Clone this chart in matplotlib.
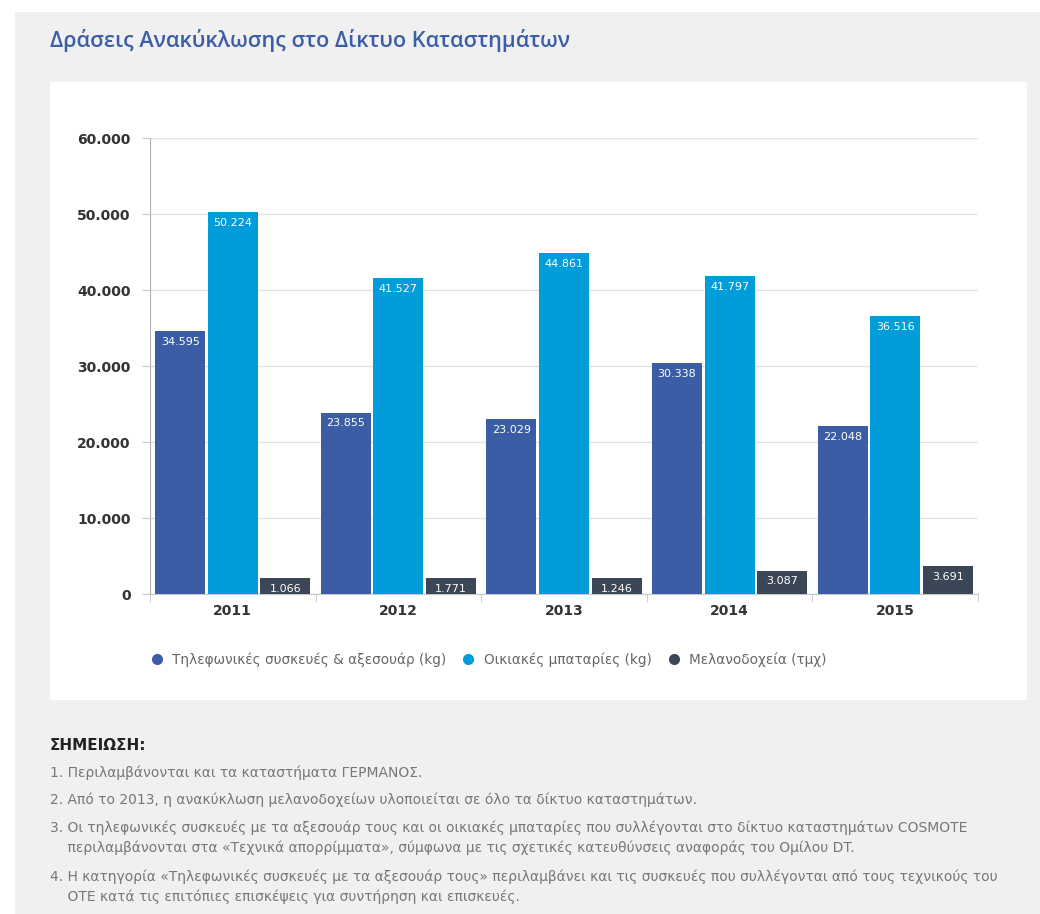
import matplotlib
matplotlib.use("Agg")
import matplotlib.pyplot as plt
import numpy as np
from matplotlib.patches import Rectangle
from matplotlib.lines import Line2D
from matplotlib.ticker import FuncFormatter, MultipleLocator

years = ['2011', '2012', '2013', '2014', '2015']
phones = [34595, 23855, 23029, 30338, 22048]
batteries = [50224, 41527, 44861, 41797, 36516]
cartridges = [1066, 1771, 1246, 3087, 3691]
series_names = ['Τηλεφωνικές συσκευές & αξεσουάρ (kg)',
                'Οικιακές μπαταρίες (kg)',
                'Μελανοδοχεία (τμχ)']
colors = ['#3a5da6', '#009dda', '#3b4757']

title = 'Δράσεις Ανακύκλωσης στο Δίκτυο Καταστημάτων'
note_head = 'ΣΗΜΕΙΩΣΗ:'
notes = [
    '1. Περιλαμβάνονται και τα καταστήματα ΓΕΡΜΑΝΟΣ.',
    '2. Από το 2013, η ανακύκλωση μελανοδοχείων υλοποιείται σε όλο τα δίκτυο καταστημάτων.',
    '3. Οι τηλεφωνικές συσκευές με τα αξεσουάρ τους και οι οικιακές μπαταρίες που συλλέγονται στο δίκτυο καταστημάτων COSMOTE\n'
    '    περιλαμβάνονται στα «Τεχνικά απορρίμματα», σύμφωνα με τις σχετικές κατευθύνσεις αναφοράς του Ομίλου DT.',
    '4. Η κατηγορία «Τηλεφωνικές συσκευές με τα αξεσουάρ τους» περιλαμβάνει και τις συσκευές που συλλέγονται από τους τεχνικούς του\n'
    '    ΟΤΕ κατά τις επιτόπιες επισκέψεις για συντήρηση και επισκευές.',
]
note_y = [773, 800, 838, 887]

# smallest height of the dark label plate, in data units
min_plate = 2100

W, H = 1040, 914
fig = plt.figure(figsize=(W / 100, H / 100), dpi=100)
fig.patch.set_facecolor('white')

# page background and white chart card
fig.patches.append(Rectangle((15 / W, 0), 1, 1 - 12 / H, transform=fig.transFigure,
                             facecolor='#f0f0f0', edgecolor='none', zorder=-10))
fig.patches.append(Rectangle((50 / W, 1 - 700 / H), 977 / W, 618 / H, transform=fig.transFigure,
                             facecolor='white', edgecolor='none', zorder=-9))

fig.text(50 / W, 1 - 40 / H, title, fontsize=15.6, color='#3c5ea6', fontweight='semibold',
         family=['Open Sans', 'DejaVu Sans'], va='center', ha='left')

ax = fig.add_axes([150 / W, 1 - 594 / H, 828 / W, 456 / H])
ax.set_facecolor('none')

x = np.arange(len(years))
off = 0.318
bw = 0.302
all_series = [phones, batteries, cartridges]
for i, (vals, col) in enumerate(zip(all_series, colors)):
    xs = x + (i - 1) * off
    ax.bar(xs, vals, width=bw, color=col, zorder=3)
    if i == 2:
        # label plate so the small values stay readable
        ax.bar(xs, np.maximum(vals, min_plate), width=bw, color=col, zorder=3)
    for xi, v in zip(xs, vals):
        lbl = f'{v:,}'.replace(',', '.')
        top = max(v, min_plate) if i == 2 else v
        ax.annotate(lbl, (xi, top), xytext=(0, -4), textcoords='offset points',
                    ha='center', va='top', color='white', fontsize=8, zorder=5)

ax.set_xlim(-0.5, len(years) - 0.5)
ax.set_ylim(0, 60000)
ax.yaxis.set_major_locator(MultipleLocator(10000))
ax.yaxis.set_major_formatter(FuncFormatter(lambda v, p: f'{int(v):,}'.replace(',', '.')))
ax.grid(axis='y', color='#e3e3e3', linewidth=1, zorder=0)
for s in ['top', 'right']:
    ax.spines[s].set_visible(False)
ax.spines['left'].set_color('#b0b0b0')
ax.spines['bottom'].set_color('#c8c8c8')
ax.tick_params(axis='y', length=6, color='#c8c8c8', labelsize=10, labelcolor='#333333', pad=8)
ax.set_xticks(x)
ax.set_xticklabels(years, fontsize=10, fontweight='bold', color='#333333')
ax.tick_params(axis='x', length=0, pad=7)
ax.set_xticks(np.arange(-0.5, len(years), 1), minor=True)
ax.tick_params(axis='x', which='minor', length=6, color='#c8c8c8')
for t in ax.get_yticklabels():
    t.set_fontweight('semibold')

handles = [Line2D([], [], marker='o', linestyle='none', markersize=8, markerfacecolor=c,
                  markeredgecolor='none') for c in colors]
fig.legend(handles, series_names, loc='center left', bbox_to_anchor=(150 / W, 1 - 660 / H),
           ncol=3, frameon=False, handlelength=1.0, handletextpad=0.65, columnspacing=1.1,
           borderpad=0, borderaxespad=0, fontsize=9.8, labelcolor='#666666')

fig.text(50 / W, 1 - 745 / H, note_head, fontsize=11, fontweight='bold', color='#222222',
         va='center')
for y, n in zip(note_y, notes):
    fig.text(50 / W, 1 - y / H, n, fontsize=10.0, color='#777777',
             va='center', linespacing=1.45)

fig.savefig('out.png', dpi=100)
